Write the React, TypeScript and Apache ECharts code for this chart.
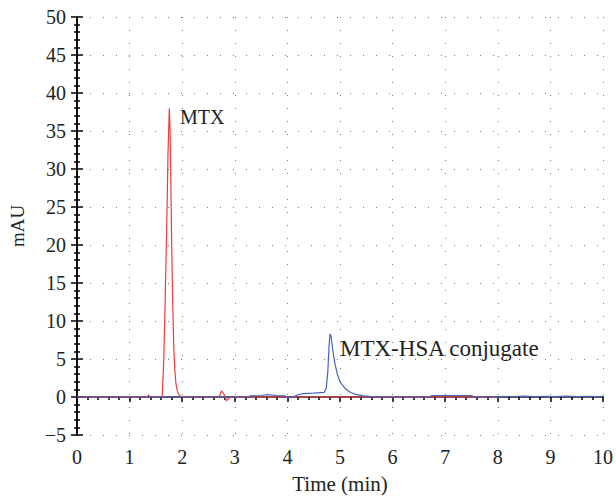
import React, { useEffect, useRef } from "react";
import * as echarts from "echarts";

const mtxX = [0, 1.34, 1.36, 1.38, 1.62, 1.65, 1.68, 1.71, 1.73, 1.755, 1.77, 1.785, 1.8, 1.82, 1.84, 1.86, 1.88, 1.91, 1.95, 2.0, 2.7, 2.75, 2.8, 2.84, 2.88, 2.92, 8.0];
const mtxY = [0, 0, 0.3, 0, 0, 5, 14, 24, 32, 38, 35, 28, 20, 12, 6.5, 3.5, 1.8, 0.7, 0.2, 0, 0, 0.8, 0.3, -0.5, -0.2, 0, 0];

const hsaX = [0, 3.25, 3.3, 3.5, 3.6, 3.8, 3.95, 4.0, 4.1, 4.2, 4.3, 4.5, 4.7, 4.74, 4.77, 4.79, 4.81, 4.83, 4.86, 4.9, 4.95, 5.0, 5.1, 5.2, 5.3, 5.45, 5.6, 5.8, 6.7, 6.75, 7.5, 7.55, 8.0, 8.1, 8.3, 8.5, 8.7, 8.9, 9.1, 9.3, 9.5, 9.7, 9.9, 10];
const hsaY = [0, 0, 0.15, 0.2, 0.3, 0.2, 0.15, -0.1, -0.05, 0.3, 0.45, 0.5, 0.6, 1.2, 3.5, 6.5, 8.3, 8.0, 6.3, 4.5, 3.0, 2.0, 1.1, 0.6, 0.35, 0.15, 0.05, 0, 0, 0.2, 0.2, 0, 0, 0.1, 0.05, 0.12, 0.05, 0.1, 0.05, 0.12, 0.05, 0.1, 0.05, 0.1];

const xTicks = { min: 0, max: 10, step: 1 };
const yTicks = { min: -5, max: 50, step: 5 };

const FONT = "Liberation Serif";

export default function App() {
  const ref = useRef<HTMLDivElement>(null);
  useEffect(() => {
    if (!ref.current) return;
    const chart = echarts.init(ref.current, null, { renderer: "svg" });
    const axisLineBlack = { show: true, lineStyle: { color: "#000", width: 1.5 } };
    // tick direction toward the plot interior (verified empirically in this build)
    const tick = (len: number) => ({ show: true, inside: false, length: len, lineStyle: { color: "#000", width: 1.5 } });
    chart.setOption({
      animation: false,
      backgroundColor: "#fff",
      grid: { left: 77, right: 10.5, top: 17, bottom: 61, containLabel: false },
      xAxis: [
        {
          type: "value",
          min: xTicks.min,
          max: xTicks.max,
          interval: xTicks.step,
          name: "Time (min)",
          nameLocation: "middle",
          nameGap: 38,
          nameTextStyle: { fontFamily: FONT, fontSize: 21, color: "#222" },
          axisLine: axisLineBlack,
          axisTick: tick(5),
          minorTick: { show: true, splitNumber: 5, length: 3, lineStyle: { color: "#000", width: 1.5 } },
          axisLabel: { fontFamily: FONT, fontSize: 20, color: "#222", margin: 12 },
          splitLine: { show: true, lineStyle: { color: "#777", type: [1, 12], width: 1 } },
        },
        {
          type: "value",
          position: "top",
          min: xTicks.min,
          max: xTicks.max,
          interval: xTicks.step,
          axisLine: { show: true, lineStyle: { color: "#555", width: 2 } },
          axisTick: { show: false },
          axisLabel: { show: false },
          splitLine: { show: false },
        },
      ],
      yAxis: [
        {
          type: "value",
          min: yTicks.min,
          max: yTicks.max,
          interval: yTicks.step,
          name: "mAU",
          nameLocation: "middle",
          nameGap: 50,
          nameTextStyle: { fontFamily: FONT, fontSize: 19, color: "#222" },
          axisLine: axisLineBlack,
          axisTick: tick(6),
          minorTick: { show: true, splitNumber: 5, length: 3, lineStyle: { color: "#000", width: 1.5 } },
          axisLabel: {
            fontFamily: FONT,
            fontSize: 20,
            color: "#222",
            margin: 11,
            formatter: (v: number) => String(v).replace("-", "\u2212"),
          },
          splitLine: { show: true, lineStyle: { color: "#777", type: [1, 12], width: 1 } },
        },
        {
          type: "value",
          position: "right",
          min: yTicks.min,
          max: yTicks.max,
          interval: yTicks.step,
          axisLine: axisLineBlack,
          axisTick: tick(6),
          minorTick: { show: true, splitNumber: 5, length: 3, lineStyle: { color: "#000", width: 1.5 } },
          axisLabel: { show: false },
          splitLine: { show: false },
        },
      ],
      series: [
        {
          name: "MTX-HSA conjugate",
          type: "line",
          data: hsaX.map((x, i) => [x, hsaY[i]]),
          showSymbol: false,
          lineStyle: { color: "#4a63bd", width: 1.2 },
          z: 3,
        },
        {
          name: "MTX",
          type: "line",
          data: mtxX.map((x, i) => [x, mtxY[i]]),
          showSymbol: false,
          lineStyle: { color: "#ee3b3b", width: 1.2 },
          z: 2,
        },
      ],
      graphic: [
        {
          type: "text",
          left: 180,
          top: 107,
          style: { text: "MTX", fontFamily: FONT, fontSize: 20, fill: "#222" },
        },
        {
          type: "text",
          left: 340,
          top: 337,
          style: { text: "MTX-HSA conjugate", fontFamily: FONT, fontSize: 23, fill: "#222" },
        },
      ],
    });
    return () => chart.dispose();
  }, []);
  return <div ref={ref} style={{ position: "absolute", left: 0, top: 0, width: 616, height: 499 }} />;
}
